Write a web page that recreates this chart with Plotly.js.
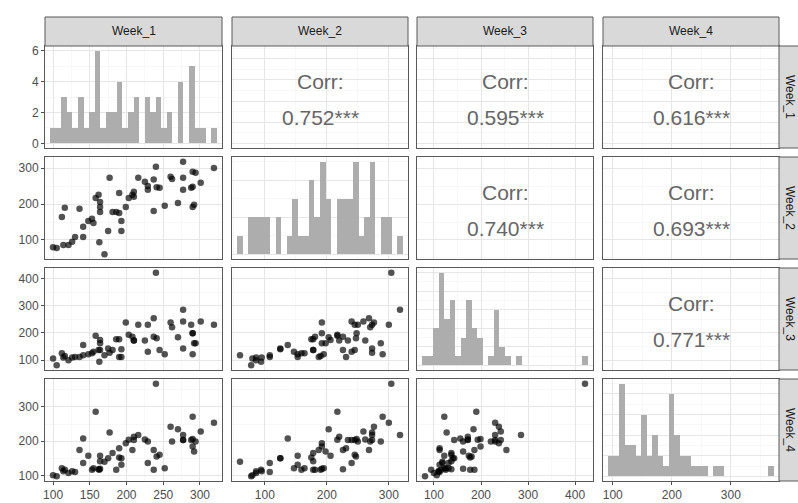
<!DOCTYPE html>
<html>
<head>
<meta charset="utf-8">
<script src="https://cdn.plot.ly/plotly-3.0.1.min.js"></script>
<style>html,body{margin:0;padding:0;background:#fff;}#chart{width:798px;height:503px;}</style>
</head>
<body>
<div id="chart"></div>
<script>
// ---- data ----
const weekNames = ['Week_1', 'Week_2', 'Week_3', 'Week_4'];
const week1 = [100,105,112,114,116,121,126,130,136,141,141,148,153,158,155,162,163,164,164,164,170,175,177,181,186,190,190,193,193,199,203,208,210,210,216,225,229,229,237,240,237,241,245,252,260,262,270,277,277,277,288,290,290,294,290,292,301,319];
const week2 = [80,78,164,86,190,86,95,108,187,137,108,153,159,217,147,226,94,206,192,178,60,125,273,178,178,175,231,153,125,192,217,226,234,220,273,262,240,250,181,304,268,247,245,195,276,270,203,273,240,318,245,248,290,287,192,198,259,300];
const week3 = [106,81,125,110,115,100,110,112,112,156,118,122,125,190,131,137,94,174,162,137,118,143,127,137,177,177,112,112,140,238,193,186,172,172,230,172,131,230,186,421,254,180,137,122,238,221,184,143,242,285,230,199,122,162,199,162,242,230];
const week4 = [100,97,121,112,116,107,112,110,174,208,136,157,116,286,121,118,116,157,119,141,140,150,225,165,116,152,179,131,150,194,204,174,203,213,218,205,136,199,116,368,174,155,160,121,242,199,235,203,203,218,203,206,271,199,184,170,228,254];
const corrLabels = ['0.752***', '0.595***', '0.616***', '0.740***', '0.693***', '0.771***'];
const nBins = 30;

const series = [week1, week2, week3, week4];

// ---- layout geometry (pixels) ----
const W = 798, H = 503;
const colPx = [[45, 222], [232, 408], [417, 593], [603, 779]];
const rowPx = [[46, 148], [157, 259], [268, 370], [379, 481]];
const stripTop = [17, 46];
const stripRight = [779, 798];

const borderCol = '#595959';
const gridMajor = '#E6E6E6';
const gridMinor = '#F3F3F3';
const fam = 'Liberation Sans, Arial, sans-serif';
const tickFont = {family: fam, size: 12, color: '#4D4D4D'};

function expandRange(a) {
  const mn = Math.min(...a), mx = Math.max(...a);
  const s = mx - mn;
  return [mn - 0.05 * s, mx + 0.05 * s];
}
function binsFor(a) {
  const mn = Math.min(...a), mx = Math.max(...a);
  const w = (mx - mn) / (nBins - 1);
  return {start: mn - w / 2, end: mx + w / 2, size: w};
}
function maxCount(a) {
  const b = binsFor(a);
  const counts = new Array(nBins + 1).fill(0);
  a.forEach(v => { counts[Math.floor((v - b.start) / b.size)]++; });
  return Math.max(...counts);
}

const traces = [];
const layout = {
  width: W, height: H,
  margin: {l: 0, r: 0, t: 0, b: 0},
  paper_bgcolor: '#fff', plot_bgcolor: '#fff',
  showlegend: false, bargap: 0,
  font: {family: fam},
  annotations: [], shapes: []
};

let corrIdx = 0;
for (let r = 0; r < 4; r++) {
  for (let c = 0; c < 4; c++) {
    const i = r * 4 + c + 1;
    const xName = 'xaxis' + i, yName = 'yaxis' + i;
    const xd = [colPx[c][0] / W, colPx[c][1] / W];
    const yd = [1 - rowPx[r][1] / H, 1 - rowPx[r][0] / H];
    const xdt = c === 0 ? 50 : 100;
    layout[xName] = {
      domain: xd, anchor: 'y' + i, range: expandRange(series[c]),
      tick0: 0, dtick: xdt,
      showgrid: true, gridcolor: gridMajor, gridwidth: 1,
      minor: {dtick: xdt / 2, tick0: 0, showgrid: true, gridcolor: gridMinor, gridwidth: 0.7},
      zeroline: false, showline: true, mirror: true, linecolor: borderCol, linewidth: 1,
      showticklabels: r === 3, ticks: r === 3 ? 'outside' : '', ticklen: 3, tickcolor: '#4D4D4D',
      tickfont: tickFont, fixedrange: true
    };
    let yax = {
      domain: yd, anchor: 'x' + i,
      showgrid: true, gridcolor: gridMajor, gridwidth: 1,
      zeroline: false, showline: true, mirror: true, linecolor: borderCol, linewidth: 1,
      showticklabels: c === 0, ticks: c === 0 ? 'outside' : '', ticklen: 3, tickcolor: '#4D4D4D',
      tickfont: tickFont, fixedrange: true
    };
    if (r === c) {
      const m = maxCount(series[c]);
      yax.range = [-0.05 * m, 1.05 * m];
      yax.tick0 = 0; yax.dtick = 2;
      yax.minor = {dtick: 1, tick0: 0, showgrid: true, gridcolor: gridMinor, gridwidth: 0.7};
      traces.push({
        type: 'histogram', x: series[c], xaxis: 'x' + i, yaxis: 'y' + i,
        autobinx: false, xbins: binsFor(series[c]),
        marker: {color: '#ADADAD', line: {width: 0}}, hoverinfo: 'skip'
      });
    } else {
      const ydt = r === 0 ? 50 : 100;
      yax.range = expandRange(series[r]);
      yax.tick0 = 0; yax.dtick = ydt;
      yax.minor = {dtick: ydt / 2, tick0: 0, showgrid: true, gridcolor: gridMinor, gridwidth: 0.7};
      if (r > c) {
        traces.push({
          type: 'scatter', mode: 'markers', x: series[c], y: series[r],
          xaxis: 'x' + i, yaxis: 'y' + i,
          marker: {size: 6.5, color: 'rgba(0,0,0,0.68)', line: {width: 0}}, hoverinfo: 'skip'
        });
      } else {
        traces.push({type: 'scatter', mode: 'markers', x: [], y: [], xaxis: 'x' + i, yaxis: 'y' + i, hoverinfo: 'skip'});
        layout.annotations.push({
          xref: 'x' + i + ' domain', yref: 'y' + i + ' domain', x: 0.5, y: 0.65,
          text: 'Corr:', showarrow: false, xanchor: 'center', yanchor: 'middle',
          font: {size: 21, color: '#666666', family: fam}
        });
        layout.annotations.push({
          xref: 'x' + i + ' domain', yref: 'y' + i + ' domain', x: 0.5, y: 0.30,
          text: corrLabels[corrIdx++], showarrow: false, xanchor: 'center', yanchor: 'middle',
          font: {size: 21, color: '#666666', family: fam}
        });
      }
    }
    layout[yName] = yax;
  }
}

// strips
for (let c = 0; c < 4; c++) {
  layout.shapes.push({
    type: 'rect', xref: 'paper', yref: 'paper',
    x0: colPx[c][0] / W, x1: colPx[c][1] / W,
    y0: 1 - stripTop[1] / H, y1: 1 - stripTop[0] / H,
    fillcolor: '#D9D9D9', line: {color: borderCol, width: 1}, layer: 'above'
  });
  layout.annotations.push({
    xref: 'paper', yref: 'paper',
    x: (colPx[c][0] + colPx[c][1]) / 2 / W, y: 1 - (stripTop[0] + stripTop[1]) / 2 / H,
    text: weekNames[c], showarrow: false, xanchor: 'center', yanchor: 'middle',
    font: {size: 12, color: '#1A1A1A', family: fam}
  });
}
for (let r = 0; r < 4; r++) {
  layout.shapes.push({
    type: 'rect', xref: 'paper', yref: 'paper',
    x0: stripRight[0] / W, x1: (stripRight[1] + 10) / W,
    y0: 1 - rowPx[r][1] / H, y1: 1 - rowPx[r][0] / H,
    fillcolor: '#D9D9D9', line: {color: borderCol, width: 1}, layer: 'above'
  });
  layout.annotations.push({
    xref: 'paper', yref: 'paper',
    x: 790 / W, y: 1 - (rowPx[r][0] + rowPx[r][1]) / 2 / H,
    text: weekNames[r], showarrow: false, textangle: 90, xanchor: 'center', yanchor: 'middle',
    font: {size: 12, color: '#1A1A1A', family: fam}
  });
}

Plotly.newPlot('chart', traces, layout, {displayModeBar: false, staticPlot: true});
</script>
</body>
</html>
